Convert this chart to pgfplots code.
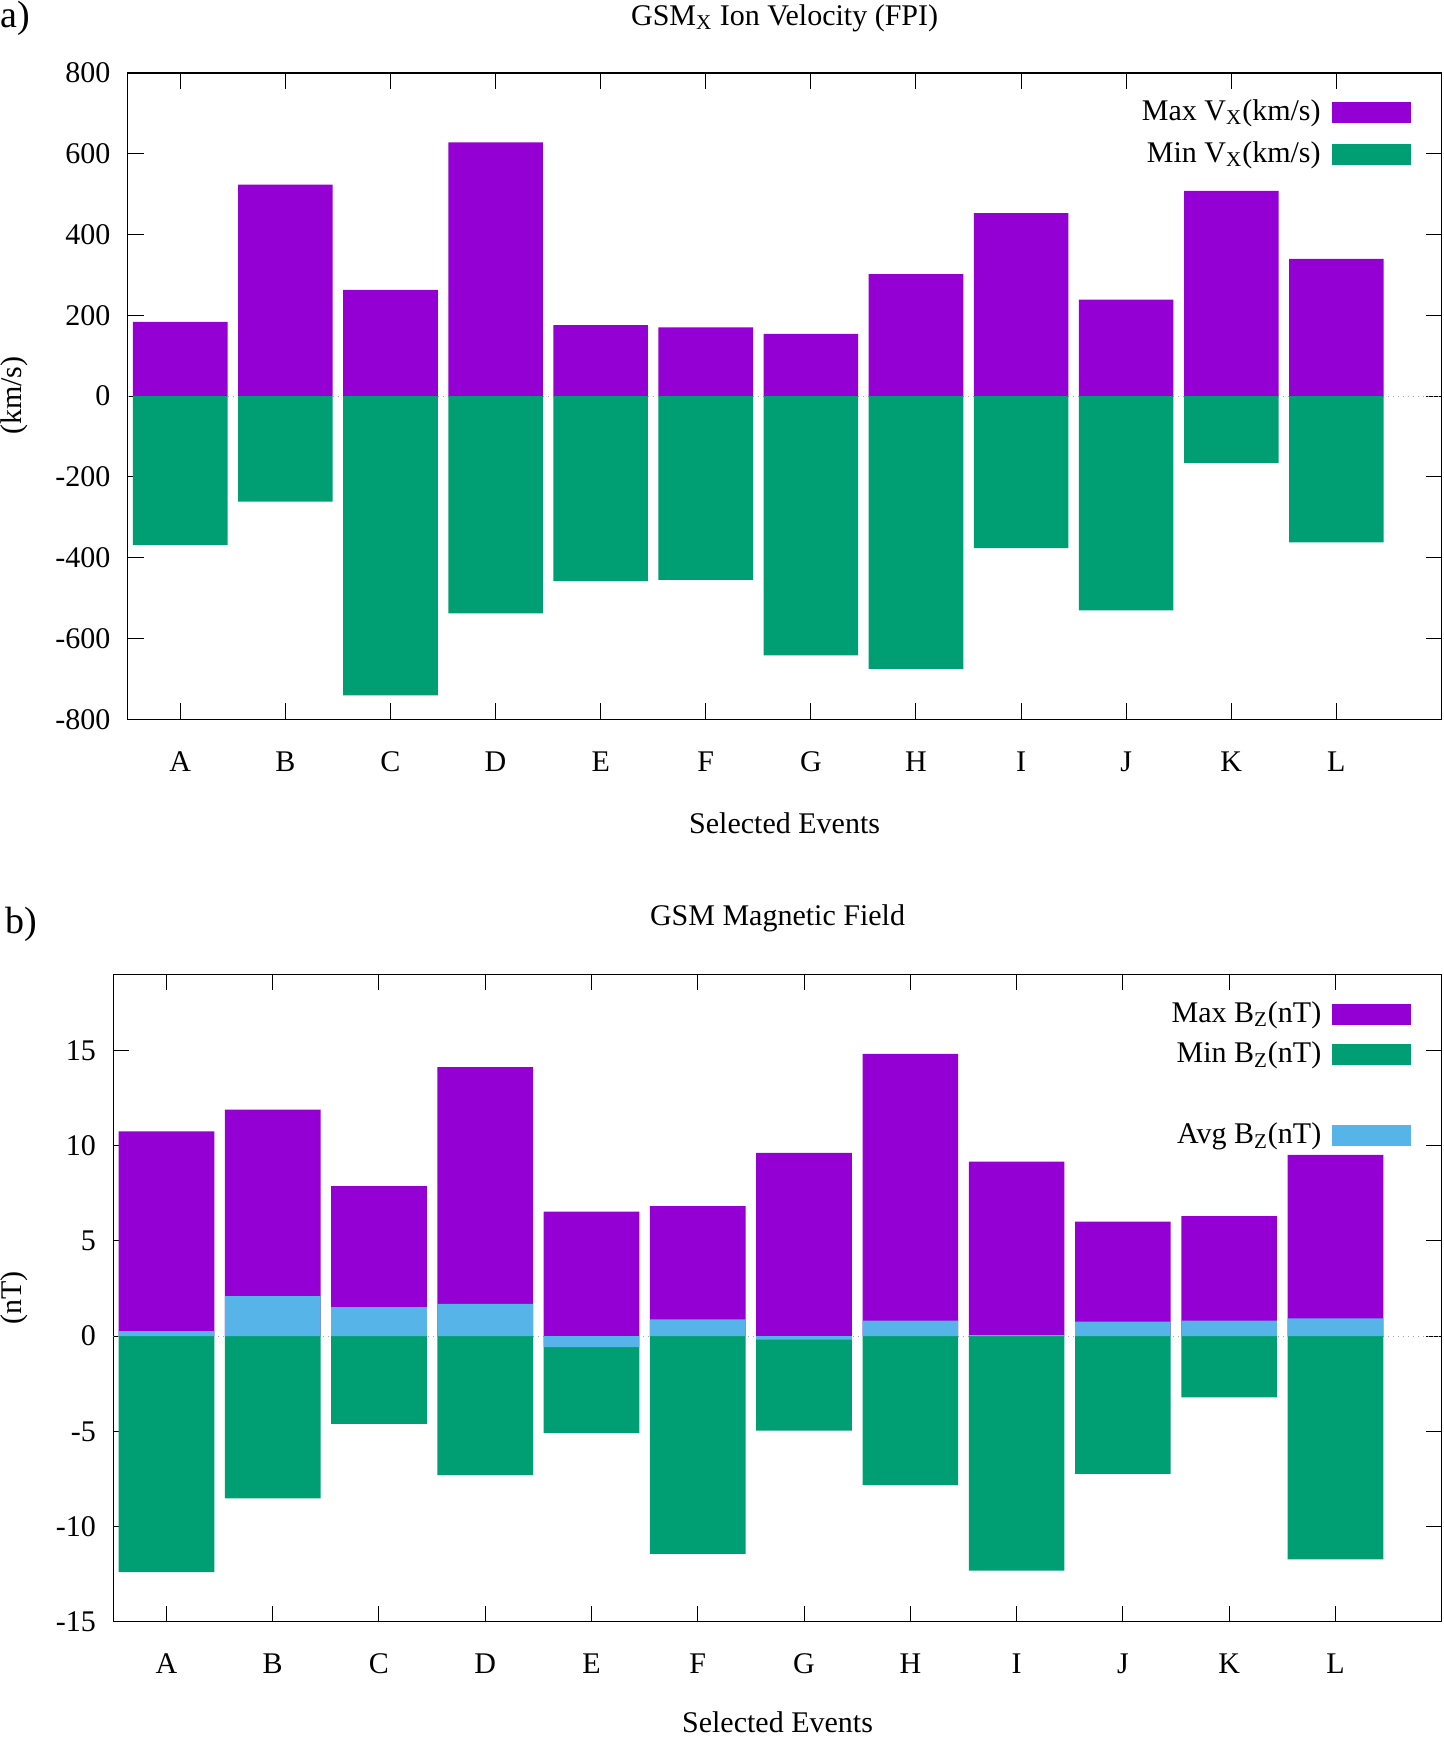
\documentclass[border=0pt]{standalone}
\usepackage{pgfplots}
\pgfplotsset{compat=1.18}
\usepackage{fontspec}
\setmainfont{Liberation Serif}
\definecolor{cmax}{HTML}{9400D3}
\definecolor{cmin}{HTML}{009E73}
\definecolor{cavg}{HTML}{56B4E9}
\pgfplotsset{
  mybase/.style={
    scale only axis,
    anchor=south west,
    xmin=0.5, xmax=13,
    xtick={1,...,12},
    xticklabels={A,B,C,D,E,F,G,H,I,J,K,L},
    tick align=inside,
    major tick length=8pt,
    every tick/.style={black, line width=0.5pt},
    axis line style={line width=0.6pt},
    /pgf/number format/assume math mode=true,
    yticklabel={\textrm{\pgfmathprintnumber[assume math mode=true]{\tick}}},
    xticklabel style={anchor=base, yshift=-26pt},
    yticklabel style={anchor=east, xshift=-3.5pt},
    legend plot pos=right,
    legend cell align=right,
    legend image code/.code={\fill[##1] (0pt,-5.5pt) rectangle (39.5pt,5pt);},
  },
  barstyle/.style={ybar, bar width=0.9, bar shift=0pt, draw=none, fill=#1},
}
\begin{document}
\fontsize{15}{18}\selectfont
\begin{tikzpicture}
\path[use as bounding box] (0,0) rectangle (722pt,-868.5pt);

\begin{axis}[mybase,
  at={(63.85pt,-359.65pt)},
  width=656.9pt, height=323.15pt,
  ymin=-800, ymax=800,
  ytick={-800,-600,...,800},
  legend style={draw=none, fill=none, at={(rel axis cs:1,1)}, anchor=north east,
    xshift=-15.25pt, yshift=-12pt, inner sep=0pt, row sep=6.5pt, column sep=5.5pt,
    nodes={inner sep=0pt, text height=11.5pt, text depth=3pt}},
]
\addplot[forget plot, gray!70, dotted, line width=0.5pt] coordinates {(0.5,0) (13,0)};
\addplot[barstyle=cmax] coordinates {
(1,184) (2,524) (3,263) (4,628) (5,176) (6,170) (7,154) (8,302) (9,453) (10,239) (11,508) (12,340)};
\addlegendentry{Max V\textsubscript{X}(km/s)}
\addplot[barstyle=cmin] coordinates {
(1,-368) (2,-261) (3,-741) (4,-538) (5,-458) (6,-455) (7,-642) (8,-675) (9,-376) (10,-530) (11,-165) (12,-362)};
\addlegendentry{Min V\textsubscript{X}(km/s)}
\end{axis}

\begin{axis}[mybase,
  at={(56.65pt,-810.85pt)},
  width=664.2pt, height=323.65pt,
  ymin=-15, ymax=19,
  ytick={-15,-10,...,15},
  legend style={draw=none, fill=none, at={(rel axis cs:1,1)}, anchor=north east,
    xshift=-15pt, yshift=-12.2pt, inner sep=0pt, row sep=5.75pt, column sep=5.5pt,
    nodes={inner sep=0pt, text height=11.5pt, text depth=3pt}},
]
\addplot[forget plot, gray!70, dotted, line width=0.5pt] coordinates {(0.5,0) (13,0)};
\addplot[barstyle=cmax] coordinates {
(1,10.75) (2,11.9) (3,7.88) (4,14.13) (5,6.54) (6,6.83) (7,9.63) (8,14.83) (9,9.17) (10,6.01) (11,6.30) (12,9.52)};
\addlegendentry{Max B\textsubscript{Z}(nT)}
\addplot[barstyle=cmin] coordinates {
(1,-12.4) (2,-8.52) (3,-4.61) (4,-7.30) (5,-5.08) (6,-11.44) (7,-4.96) (8,-7.82) (9,-12.32) (10,-7.24) (11,-3.21) (12,-11.73)};
\addlegendentry{Min B\textsubscript{Z}(nT)}
\addlegendimage{empty legend}
\addlegendentry{}
\addplot[barstyle=cavg] coordinates {
(1,0.27) (2,2.1) (3,1.52) (4,1.69) (5,-0.58) (6,0.88) (7,-0.18) (8,0.82) (9,0.05) (10,0.76) (11,0.82) (12,0.93)};
\addlegendentry{Avg B\textsubscript{Z}(nT)}
\end{axis}

% titles and labels
\node[anchor=base west, inner sep=0pt, font=\fontsize{19}{22}\selectfont] at (0pt,-13.6pt) {a)};
\node[anchor=base, inner sep=0pt] at (392.3pt,-12.5pt) {GSM\textsubscript{X} Ion Velocity (FPI)};
\node[anchor=base, inner sep=0pt] at (392.3pt,-416.5pt) {Selected Events};
\node[rotate=90, inner sep=0pt] at (7pt,-197.8pt) {(km/s)};

\node[anchor=base west, inner sep=0pt, font=\fontsize{19}{22}\selectfont] at (2.75pt,-466.5pt) {b)};
\node[anchor=base, inner sep=0pt] at (388.75pt,-462.5pt) {GSM Magnetic Field};
\node[anchor=base, inner sep=0pt] at (388.75pt,-866pt) {Selected Events};
\node[rotate=90, inner sep=0pt] at (7pt,-649pt) {(nT)};
\end{tikzpicture}
\end{document}
